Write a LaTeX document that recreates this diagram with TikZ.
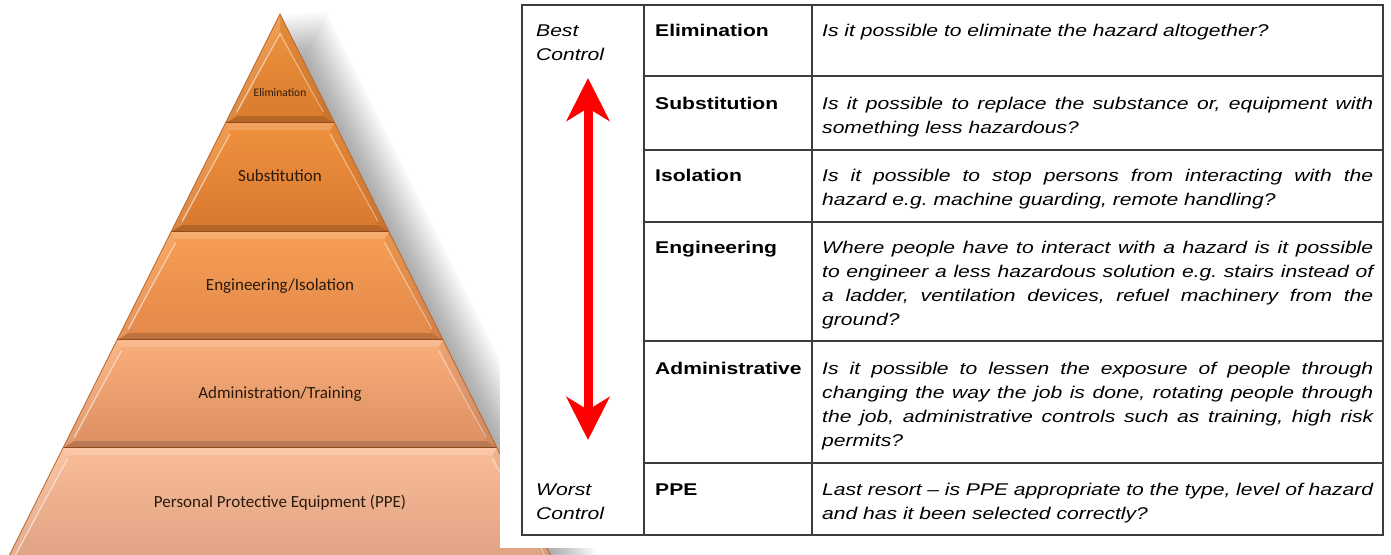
\documentclass[tikz,border=0pt]{standalone}
\usepackage{fontspec}
\setmainfont{Liberation Sans}
\newfontfamily\tabfont[FakeStretch=1.24]{Liberation Sans}
\newfontfamily\pyrfont{Carlito}
\usetikzlibrary{arrows.meta,calc}

% level colours of the pyramid (top / bottom of each band)
\definecolor{lvAt}{HTML}{EE9540}
\definecolor{lvAb}{HTML}{D97A2C}
\definecolor{lvBt}{HTML}{F0913E}
\definecolor{lvBb}{HTML}{D8782F}
\definecolor{lvCt}{HTML}{F69E55}
\definecolor{lvCb}{HTML}{E2884A}
\definecolor{lvDt}{HTML}{F9AE7A}
\definecolor{lvDb}{HTML}{DC8F62}
\definecolor{lvEt}{HTML}{FABD98}
\definecolor{lvEb}{HTML}{DDA183}
\definecolor{lvedge}{HTML}{B8662A}
\definecolor{lvsep}{HTML}{8E4A1C}
\definecolor{pyrtext}{HTML}{2A1A0C}
\definecolor{tabgray}{HTML}{3C3C3C}
\definecolor{arrowred}{HTML}{FF0000}

\tikzset{
  pyrlabel/.style={font=\pyrfont\fontsize{17}{20}\selectfont, text=pyrtext, inner sep=0pt, anchor=base},
  tabline/.style={draw=tabgray, line width=1.4pt},
  celltext/.style={font=\tabfont\fontsize{17}{24}\selectfont\itshape, inner sep=0pt,
                   anchor=north west, text width=#1, align=justify},
  rowhead/.style={font=\tabfont\fontsize{17}{24}\selectfont\bfseries, inner sep=0pt, anchor=base west},
  sidetext/.style={font=\tabfont\fontsize{17}{24}\selectfont\itshape, inner sep=0pt,
                   anchor=north west, text width=100pt, align=left},
  bigarrow/.style={draw=arrowred, line width=9pt,
                   {Stealth[length=43pt,width=43pt,inset=13pt]}-{Stealth[length=43pt,width=43pt,inset=13pt]}},
}
\newcommand{\firstline}{\rule{0pt}{16pt}}

\begin{document}
\frenchspacing
\begin{tikzpicture}[x=1pt,y=-1pt]
\useasboundingbox (0,0) rectangle (1391,554);
\fill[white] (0,0) rectangle (1391,554);

% soft drop shadow to the right of the pyramid
\foreach \k in {1,...,22} {
  \fill[black, opacity=0.016, xshift={2.1pt*\k}, yshift={0.15pt*\k}] (280,14) -- (563,580) -- (-3,580) -- cycle;
}

% bevelled pyramid bands
\foreach \yt/\yb/\ct/\cb in {14/123/lvAt/lvAb, 123/232/lvBt/lvBb, 232/340/lvCt/lvCb,
                             340/448/lvDt/lvDb, 448/566/lvEt/lvEb} {
  \pgfmathsetmacro\xlt{280-0.5*(\yt-14)}
  \pgfmathsetmacro\xrt{280+0.5*(\yt-14)}
  \pgfmathsetmacro\xlb{280-0.5*(\yb-14)}
  \pgfmathsetmacro\xrb{280+0.5*(\yb-14)}
  \pgfmathsetmacro\iyt{max(\yt+7,14+2.236*7)}
  \pgfmathsetmacro\iyb{\yb-7}
  \pgfmathsetmacro\ixlt{280-0.5*(\iyt-14)+7.83}
  \pgfmathsetmacro\ixrt{280+0.5*(\iyt-14)-7.83}
  \pgfmathsetmacro\ixlb{280-0.5*(\iyb-14)+7.83}
  \pgfmathsetmacro\ixrb{280+0.5*(\iyb-14)-7.83}
  \shade[top color=\ct, bottom color=\cb] (\xlt,\yt) -- (\xrt,\yt) -- (\xrb,\yb) -- (\xlb,\yb) -- cycle;
  \fill[white, opacity=0.16] (\xlt,\yt) -- (\xrt,\yt) -- (\ixrt,\iyt) -- (\ixlt,\iyt) -- cycle;
  \fill[white, opacity=0.10] (\xlt,\yt) -- (\ixlt,\iyt) -- (\ixlb,\iyb) -- (\xlb,\yb) -- cycle;
  \fill[black, opacity=0.05] (\xrt,\yt) -- (\ixrt,\iyt) -- (\ixrb,\iyb) -- (\xrb,\yb) -- cycle;
  \fill[black, opacity=0.16] (\xlb,\yb) -- (\ixlb,\iyb) -- (\ixrb,\iyb) -- (\xrb,\yb) -- cycle;
  \draw[white, opacity=0.55, line width=1.2pt, line cap=round] (\ixlt,\iyt+4) -- (\ixlb,\iyb-4);
  \draw[white, opacity=0.40, line width=1.2pt, line cap=round] (\ixrt,\iyt+4) -- (\ixrb,\iyb-4);
  \draw[lvsep, line width=2pt] (\xlb,\yb) -- (\xrb,\yb);
}
\draw[lvedge, line width=0.8pt] (280,14) -- (563,580) -- (-3,580) -- cycle;

% pyramid labels
\node[pyrlabel, font=\pyrfont\fontsize{11.5}{14}\selectfont] (pElim) at (280,96) {Elimination};
\node[pyrlabel] (pSubs) at (280,181) {Substitution};
\node[pyrlabel] (pEng)  at (280,290) {Engineering/Isolation};
\node[pyrlabel] (pAdm)  at (280,398) {Administration/Training};
\node[pyrlabel] (pPPE)  at (280,507) {Personal Protective Equipment (PPE)};

% table sheet
\fill[white] (500,0) rectangle (1391,548);

% table frame and rules
\draw[tabline] (522,5) rectangle (1383,535);
\draw[tabline] (644,5) -- (644,535);
\draw[tabline] (812,5) -- (812,535);
\foreach \ry in {76,150,222,341,463} {
  \draw[tabline] (644,\ry) -- (1383,\ry);
}

% side labels
\node[sidetext] (best)  at (536,20)  {\firstline Best\\Control};
\node[sidetext] (worst) at (536,479) {\firstline Worst\\Control};

% row headings
\node[rowhead] (hElim) at (655,36)  {Elimination};
\node[rowhead] (hSubs) at (655,109) {Substitution};
\node[rowhead] (hIso)  at (655,181) {Isolation};
\node[rowhead] (hEng)  at (655,253) {Engineering};
\node[rowhead] (hAdm)  at (655,374) {Administrative};
\node[rowhead] (hPPE)  at (655,495) {PPE};

% descriptions
\node[celltext=551pt] (dElim) at (822,20)
  {\firstline Is it possible to eliminate the hazard altogether?};
\node[celltext=551pt] (dSubs) at (822,93)
  {\firstline Is it possible to replace the substance or, equipment with\linebreak something less hazardous?};
\node[celltext=551pt] (dIso) at (822,165)
  {\firstline Is it possible to stop persons from interacting with the\linebreak hazard e.g. machine guarding, remote handling?};
\node[celltext=551pt] (dEng) at (822,237)
  {\firstline Where people have to interact with a hazard is it possible\linebreak to engineer a less hazardous solution e.g. stairs instead of\linebreak a ladder, ventilation devices, refuel machinery from the\linebreak ground?};
\node[celltext=551pt] (dAdm) at (822,358)
  {\firstline Is it possible to lessen the exposure of people through\linebreak changing the way the job is done, rotating people through\linebreak the job, administrative controls such as training, high risk\linebreak permits?};
\node[celltext=551pt] (dPPE) at (822,479)
  {\firstline Last resort – is PPE appropriate to the type, level of hazard\linebreak and has it been selected correctly?};

% best-to-worst arrow
\coordinate (arrTop) at (588,78);
\coordinate (arrBot) at (588,440);
\draw[bigarrow] (arrTop) -- (arrBot);
\end{tikzpicture}
\end{document}
